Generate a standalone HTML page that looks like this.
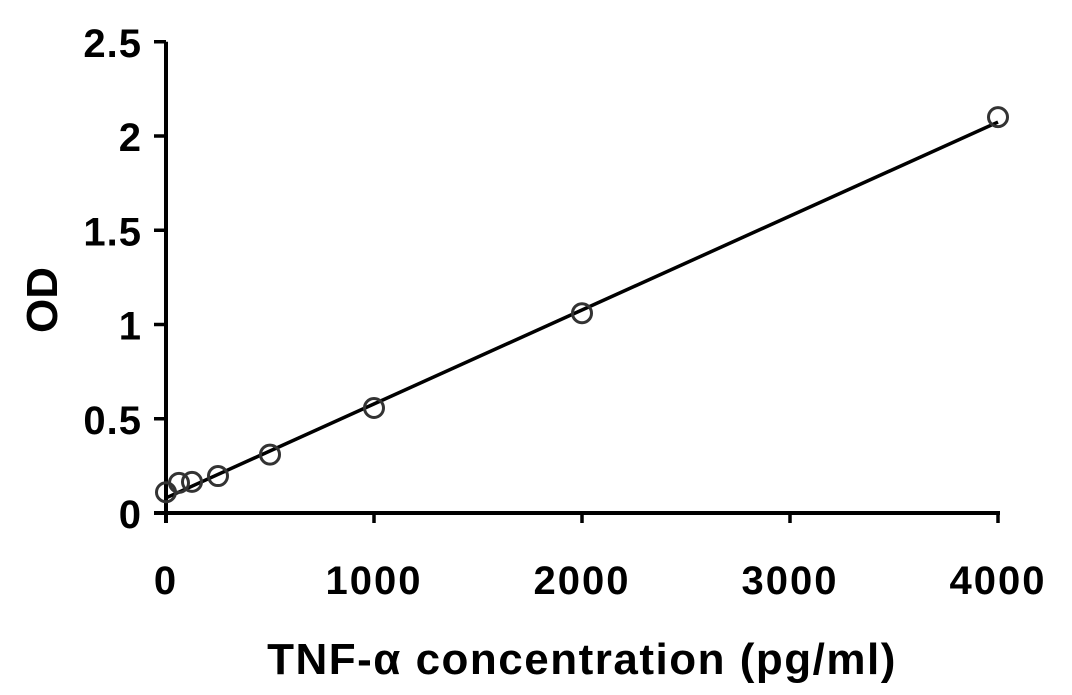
<!DOCTYPE html>
<html><head><meta charset="utf-8"><style>
body{margin:0;background:#fff;}
svg text{font-family:"Liberation Sans",sans-serif;font-weight:bold;fill:#000;}
</style></head><body>
<svg id="chart" width="1072" height="690" viewBox="0 0 1072 690" xmlns="http://www.w3.org/2000/svg">
<g id="axes"></g><g id="fit"></g><g id="pts"></g>
<text x="582" y="674" font-size="44" letter-spacing="1.5" text-anchor="middle">TNF-α concentration (pg/ml)</text>
<text x="0" y="0" font-size="44" text-anchor="middle" transform="translate(57,300) rotate(-90)">OD</text>
</svg>
<script>
const xConc = [0, 62.5, 125, 250, 500, 1000, 2000, 4000];
const yOD = [0.11, 0.16, 0.165, 0.196, 0.31, 0.557, 1.06, 2.10];
const fitIntercept = 0.08;
const fitEnd = 2.074;
const xTicks = [0, 1000, 2000, 3000, 4000];
const yTicks = [0, 0.5, 1, 1.5, 2, 2.5];
const yTickLabels = ["0", "0.5", "1", "1.5", "2", "2.5"];

const NS = "http://www.w3.org/2000/svg";
const X0 = 166, XPER = 0.208, Y0 = 513, YPER = 188.5;
function sx(v){return X0 + v*XPER;}
function sy(v){return Y0 - v*YPER;}
function mk(tag, attrs, parent){const e=document.createElementNS(NS,tag);for(const k in attrs)e.setAttribute(k,attrs[k]);parent.appendChild(e);return e;}
const axes=document.getElementById('axes');
let l=mk('line',{x1:X0,y1:sy(2.5),x2:X0,y2:Y0+10,stroke:'#000','stroke-width':4},axes);


l=mk('line',{x1:X0-12,y1:Y0,x2:sx(4000)+2,y2:Y0,stroke:'#000','stroke-width':4},axes);


yTicks.forEach((v,i)=>{
  const t=mk('line',{x1:X0-12,y1:sy(v),x2:X0,y2:sy(v),stroke:'#000','stroke-width':3.5},axes);
  
  
  const tx=mk('text',{x:X0-24,y:sy(v)+15,'font-size':40,'letter-spacing':1,'text-anchor':'end'},axes);
  tx.textContent=yTickLabels[i];
  
  
});
xTicks.forEach(v=>{
  const t=mk('line',{x1:sx(v),y1:Y0,x2:sx(v),y2:Y0+10,stroke:'#000','stroke-width':3.5},axes);
  
  
  const tx=mk('text',{x:sx(v),y:Y0+81,'font-size':40,'letter-spacing':2,'text-anchor':'middle'},axes);
  tx.textContent=String(v);
  
  
});
const fl=mk('line',{x1:sx(0),y1:sy(fitIntercept),x2:sx(4000),y2:sy(fitEnd),stroke:'#000','stroke-width':3.5},document.getElementById('fit'));


const pts=document.getElementById('pts');
xConc.forEach((x,i)=>{
  const c=mk('circle',{cx:sx(x),cy:sy(yOD[i]),r:9.5,fill:'none',stroke:'#333','stroke-width':3},pts);
  
  
});
</script>
</body></html>
